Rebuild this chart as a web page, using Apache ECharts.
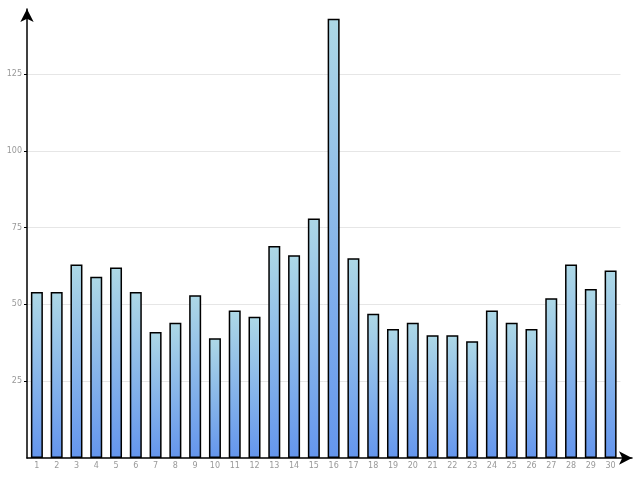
<!DOCTYPE html>
<html>
<head>
<meta charset="utf-8">
<script src="https://cdn.jsdelivr.net/npm/echarts@6/dist/echarts.min.js"></script>
<style>html,body{margin:0;padding:0;background:#fff}#c{width:640px;height:480px}</style>
</head>
<body>
<div id="c"></div>
<script>
var categories = ['1','2','3','4','5','6','7','8','9','10','11','12','13','14','15','16','17','18','19','20','21','22','23','24','25','26','27','28','29','30'];
var values = [54,54,63,59,62,54,41,44,53,39,48,46,69,66,78,143,65,47,42,44,40,40,38,48,44,42,52,63,55,61];
var yTicks = [0,25,50,75,100,125];
var yMax = 149.1;

var chart = echarts.init(document.getElementById('c'), null, {renderer:'canvas'});
var labelFont = {color:'#999', fontSize:8, fontFamily:'DejaVu Sans'};
chart.setOption({
  animation:false,
  grid:[
    {left:27, right:19.5, top:0, bottom:22, containLabel:false},
    {left:27, right:8, top:9, bottom:22, containLabel:false}
  ],
  xAxis:[
    {type:'category', gridIndex:0, data:categories, boundaryGap:true,
     axisLine:{show:false},
     axisTick:{show:true, alignWithLabel:true, inside:true, length:4, lineStyle:{color:'#000'}},
     axisLabel:Object.assign({margin:4, interval:0}, labelFont),
     splitLine:{show:false}},
    {type:'value', gridIndex:1, min:0, max:1,
     axisLine:{show:true, symbol:['none','arrow'], symbolSize:[10,13], lineStyle:{color:'#000', width:1.5}},
     axisTick:{show:false}, axisLabel:{show:false}, splitLine:{show:false}}
  ],
  yAxis:[
    {type:'value', gridIndex:0, min:yTicks[0], max:yMax, interval:25,
     axisLine:{show:false},
     axisTick:{show:true, length:3, lineStyle:{color:'#000'}},
     axisLabel:Object.assign({margin:5, showMinLabel:false, showMaxLabel:false}, labelFont),
     splitLine:{show:true, showMinLine:false, showMaxLine:false, lineStyle:{color:'#e6e6e6', width:1}}},
    {type:'value', gridIndex:1, min:0, max:1,
     axisLine:{show:true, symbol:['none','arrow'], symbolSize:[10,13], lineStyle:{color:'#000', width:1.5}},
     axisTick:{show:false}, axisLabel:{show:false}, splitLine:{show:false}}
  ],
  series:[{
    type:'bar', xAxisIndex:0, yAxisIndex:0, data:values, barWidth:12,
    itemStyle:{
      borderColor:'#000', borderWidth:1.5,
      color:new echarts.graphic.LinearGradient(0,0,0,1,[{offset:0,color:'#ADD8E6'},{offset:1,color:'#6495ED'}])
    }
  }]
});
</script>
</body>
</html>
